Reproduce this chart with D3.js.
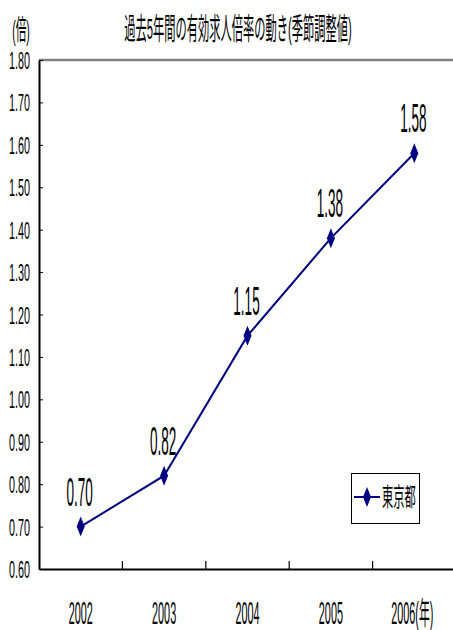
<!DOCTYPE html>
<html><head><meta charset="utf-8">
<script src="https://cdn.jsdelivr.net/npm/d3@7/dist/d3.min.js"></script>
<style>
html,body{margin:0;padding:0;background:#fff;}
text{font-family:"Liberation Sans","Noto Sans CJK JP",sans-serif;fill:#000;}
</style></head>
<body>
<svg id="c" width="453" height="630"></svg>
<script>
const categories = ["2002","2003","2004","2005","2006"];
const categoryLabels = ["2002","2003","2004","2005","2006(年)"];
const seriesName = "東京都";
const values = [0.70, 0.82, 1.15, 1.38, 1.58];
const yTicks = [0.6,0.7,0.8,0.9,1.0,1.1,1.2,1.3,1.4,1.5,1.6,1.7,1.8];
const title = "過去5年間の有効求人倍率の動き(季節調整値)";
const yUnit = "(倍)";

(function(){
const svg = d3.select("#c");
const pL = 39, pR = 456, pT = 60, pB = 569;
const x = d3.scaleBand().domain(categories).range([pL, pR]).padding(0);
const y = d3.scaleLinear().domain([0.6, 1.8]).range([pB, pT]);
const navy = "#000080";

function sqText(g, str, tx, ty, size, sx, anchor){
  return g.append("text")
    .attr("transform", `translate(${tx},${ty}) scale(${sx},1)`)
    .attr("text-anchor", anchor || "middle")
    .style("font-size", size + "px")
    .text(str);
}

// top border (gray)
svg.append("line").attr("x1", pL).attr("x2", 453).attr("y1", pT).attr("y2", pT)
  .attr("stroke", "#808080").attr("stroke-width", 2.5);

// y axis
const yAxis = d3.axisLeft(y).tickValues(yTicks).tickSizeInner(-4).tickSizeOuter(0).tickFormat("");
const gy = svg.append("g").attr("transform", `translate(${pL},0)`).call(yAxis);
gy.select(".domain").attr("stroke", "#000").attr("stroke-width", 2);
gy.selectAll(".tick line").attr("stroke", "#000").attr("stroke-width", 1);

// x axis
const xAxis = d3.axisBottom(x).tickSize(0).tickFormat("");
const gx = svg.append("g").attr("transform", `translate(0,${pB})`).call(xAxis);
gx.select(".domain").attr("stroke", "#000").attr("stroke-width", 2);
gx.selectAll(".tick").remove();
svg.append("g").selectAll("line").data(categories.slice(1)).join("line")
  .attr("x1", d => x(d)).attr("x2", d => x(d))
  .attr("y1", pB).attr("y2", pB - 8)
  .attr("stroke", "#000").attr("stroke-width", 1.2);

// y tick labels
const gyl = svg.append("g");
yTicks.forEach(t => sqText(gyl, t.toFixed(2), 30, y(t) + 9, 24, 0.45, "end"));

// x labels
const gxl = svg.append("g");
categories.forEach((c, i) => sqText(gxl, categoryLabels[i], x(c) + x.bandwidth()/2 + (i === 4 ? -2 : 0), 624, 31, 0.35, "middle"));

// title & unit
sqText(svg, title, 238, 39, 30, 0.375, "middle");
sqText(svg, yUnit, 21, 40, 28, 0.38, "middle");

// line
const cx = (d, i) => x(categories[i]) + x.bandwidth()/2;
const line = d3.line().x((d, i) => cx(d, i)).y(d => y(d));
svg.append("path").datum(values).attr("d", line)
  .attr("fill", "none").attr("stroke", navy).attr("stroke-width", 2);

// markers
const diamond = "M0,-10 L4,0 L0,10 L-4,0 Z";
svg.append("g").selectAll("path").data(values).join("path")
  .attr("d", diamond)
  .attr("transform", (d, i) => `translate(${cx(d, i)},${y(d)})`)
  .attr("fill", navy);

// data labels
const gdl = svg.append("g");
values.forEach((v, i) => sqText(gdl, v.toFixed(2), cx(v, i) - 1, y(v) - 21, 41, 0.33, "middle"));

// legend
const lg = svg.append("g");
lg.append("rect").attr("x", 351.5).attr("y", 473.5).attr("width", 68).attr("height", 50)
  .attr("fill", "#fff").attr("stroke", "#000").attr("stroke-width", 1);
lg.append("line").attr("x1", 354).attr("x2", 380).attr("y1", 497).attr("y2", 497)
  .attr("stroke", navy).attr("stroke-width", 2);
lg.append("path").attr("d", diamond).attr("transform", "translate(367,497)").attr("fill", navy);
sqText(lg, seriesName, 382, 506, 25, 0.45, "start");
})();
</script>
</body></html>
